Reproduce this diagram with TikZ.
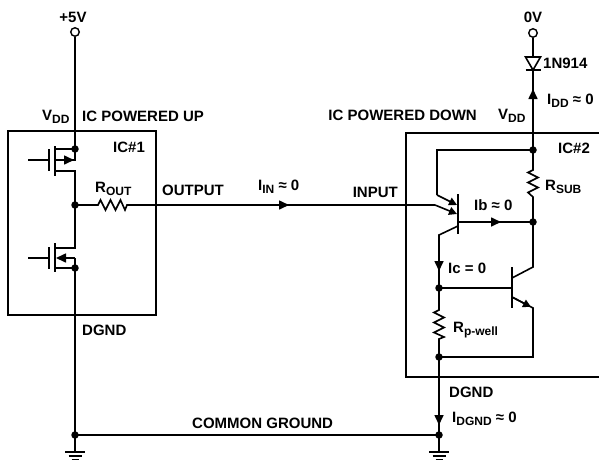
\documentclass[tikz,border=0pt]{standalone}
\usepackage{fontspec}
\setmainfont{Liberation Sans}
\usetikzlibrary{arrows.meta}
\newcommand{\lsb}[1]{\raisebox{-0.45ex}{\fontsize{12}{12}\selectfont #1}}
\begin{document}
\begin{tikzpicture}[x=1pt,y=-1pt,
  wire/.style={line width=1.6pt, line join=miter},
  box/.style={line width=2pt},
  lbl/.style={inner sep=0pt, font=\bfseries\fontsize{15}{18}\selectfont},
  dot/.style={circle, fill=black, inner sep=0pt, minimum size=7.5pt},
  term/.style={circle, draw, fill=white, line width=1.4pt, inner sep=0pt, minimum size=8.5pt},
  tip/.style={wire, -{Triangle[length=10pt,width=9pt]}},
  etip/.style={wire, -{Triangle[length=8pt,width=8pt]}}]
\useasboundingbox (0,0) rectangle (599,461);

% boxes
\draw[box] (8,131) rectangle (156,315);
\draw[box] (599,133) -- (406,133) -- (406,377) -- (599,377);

% ---- left: IC #1 ----
\node[term] (p5) at (75,32) {};
\coordinate (s1) at (75,149);
\coordinate (m1) at (75,205);
\coordinate (d2) at (75,268);
\coordinate (g1) at (75,435);
\draw[wire] (p5) -- (s1);
% upper MOSFET
\draw[wire] (28,160) -- (49,160);
\draw[wire] (49,149) -- (49,171);
\draw[wire] (55,146) -- (55,176);
\draw[wire] (55,149) -- (s1) -- (75,160) -- (60,160);
\draw[tip] (56,160) -- (74,160);
\draw[wire] (55,171) -- (75,171) -- (m1);
% lower MOSFET
\draw[wire] (28,258) -- (49,258);
\draw[wire] (49,247) -- (49,269);
\draw[wire] (55,243) -- (55,272);
\draw[wire] (m1) -- (75,248) -- (55,248);
\draw[wire] (75,258) -- (68,258);
\draw[tip] (75,258) -- (56,258);
\draw[wire] (75,258) -- (d2) -- (55,268);
\draw[wire] (d2) -- (g1);
% R_OUT and output line
\coordinate (in) at (435,205);
\draw[wire] (m1) -- (98,205) -- (100.5,200) -- (105.5,210) -- (110.5,200) -- (115.5,210) -- (120.5,200) -- (125,210) -- (127,205) -- (in);
\draw[tip] (276,205) -- (289,205);

% ---- right: IC #2 ----
\node[term] (z0) at (533,33) {};
\coordinate (tdot) at (533,150);
\coordinate (bdot) at (533,222);
\coordinate (cdot) at (439,288);
\coordinate (edot) at (439,357);
\coordinate (g2) at (439,435);
\draw[wire] (z0) -- (533,57);
\draw[wire] (525.5,57) -- (540.5,57) -- (533,70) -- cycle;
\draw[wire] (525.5,70) -- (540.5,70);
\draw[wire] (533,70) -- (tdot);
\draw[tip] (533,104) -- (533,89);
% PNP
\draw[wire] (tdot) -- (437,150) -- (437,195);
\draw[etip] (437,195) -- (457,205);
\draw[etip] (in) -- (457,214);
\draw[wire] (458,194) -- (458,234);
\draw[wire] (458,222) -- (bdot);
\draw[tip] (488,222) -- (501,222);
% R_SUB
\draw[wire] (tdot) -- (533,170) -- (528,172.5) -- (538,177.5) -- (528,182.5) -- (538,187.5) -- (528,192.5) -- (533,197) -- (bdot);
% collector of PNP
\draw[wire] (458,226) -- (439,235) -- (cdot);
\draw[tip] (439,259) -- (439,271);
% NPN
\draw[wire] (cdot) -- (512,288);
\draw[wire] (512,267) -- (512,308);
\draw[wire] (512,278) -- (533,267) -- (bdot);
\draw[wire] (512,297) -- (533,308) -- (533,357) -- (edot);
\draw[etip] (512,297) -- (531,307);
% R_p-well
\draw[wire] (cdot) -- (439,310) -- (434,312.5) -- (444,317.5) -- (434,322.5) -- (444,327.5) -- (434,332.5) -- (444,337) -- (439,339) -- (edot);
\draw[wire] (edot) -- (g2);
\draw[tip] (439,409) -- (439,425);

% common ground
\draw[wire] (g1) -- (g2);
\foreach \gx in {75,439}{
  \draw[wire] (\gx,435) -- (\gx,452);
  \draw[line width=1.5pt] (\gx-10,452) -- (\gx+10,452);
  \draw[line width=1.5pt] (\gx-6.5,456) -- (\gx+6.5,456);
  \draw[line width=1.5pt] (\gx-3.5,459.5) -- (\gx+3.5,459.5);
}

% dots
\foreach \p in {s1,m1,d2,g1,tdot,bdot,cdot,edot,g2} \node[dot] at (\p) {};

% labels
\node[lbl] (l5v) at (73,17) {+5V};
\node[lbl] (l0v) at (533,17) {0V};
\node[lbl, anchor=base west] (lvdd1) at (42,120) {V\lsb{DD}};
\node[lbl, anchor=base west] (lup) at (82,121) {IC POWERED UP};
\node[lbl, anchor=base west] (lic1) at (113,152) {IC\#1};
\node[lbl, anchor=base west] (lrout) at (95,192) {R\lsb{OUT}};
\node[lbl, anchor=base west] (lout) at (162,195) {OUTPUT};
\node[lbl, anchor=base west] (liin) at (258,190) {I\lsb{IN} ≈ 0};
\node[lbl, anchor=base east] (linp) at (398,197) {INPUT};
\node[lbl, anchor=base east] (ldown) at (477,120) {IC POWERED DOWN};
\node[lbl, anchor=base west] (lvdd2) at (498,119) {V\lsb{DD}};
\node[lbl, anchor=base west] (ldio) at (543,68) {1N914};
\node[lbl, anchor=base west] (lidd) at (547,104) {I\lsb{DD} ≈ 0};
\node[lbl, anchor=base west] (lic2) at (558,153) {IC\#2};
\node[lbl, anchor=base west] (lrsub) at (545,190) {R\lsb{SUB}};
\node[lbl, anchor=base west] (lib) at (474,210) {Ib ≈ 0};
\node[lbl, anchor=base west] (lic) at (448,273) {Ic = 0};
\node[lbl, anchor=base west] (lrpw) at (453,332) {R\lsb{p-well}};
\node[lbl, anchor=base west] (ldg2) at (449,397) {DGND};
\node[lbl, anchor=base west] (lidg) at (452,422) {I\lsb{DGND} ≈ 0};
\node[lbl, anchor=base west] (ldg1) at (82,335) {DGND};
\node[lbl, anchor=base west] (lcom) at (192,428) {COMMON GROUND};
\end{tikzpicture}
\end{document}
